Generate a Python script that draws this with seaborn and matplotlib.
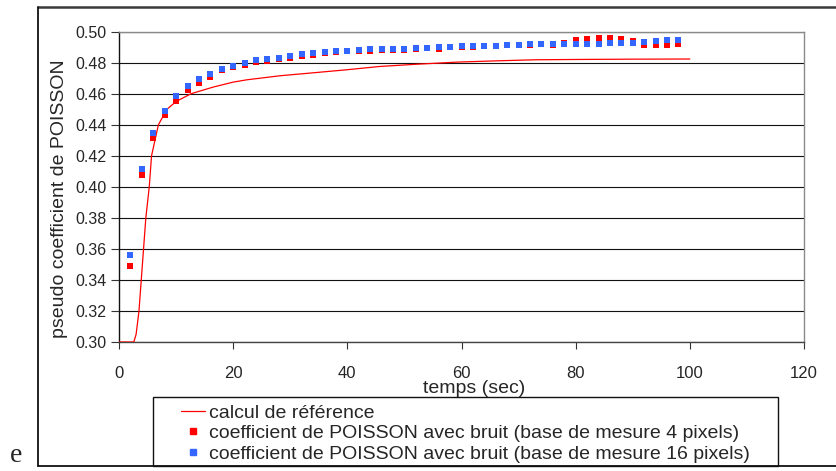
import matplotlib
matplotlib.use('Agg')
import matplotlib.pyplot as plt
import seaborn as sns
import pandas as pd
from matplotlib.lines import Line2D
from matplotlib.patches import Rectangle

# ── Data ─────────────────────────────────────────────────────────────────────
t_ref = [0, 2.6, 3.0, 3.5, 4.3, 4.7, 5.3, 5.7, 6.9, 8.4, 10.0, 12.6, 16.5, 20,
         22.4, 28.2, 34, 40, 45.7, 52, 59.2, 66, 72.9, 80, 90, 100]
v_ref = [0.300, 0.300, 0.305, 0.320, 0.360, 0.380, 0.400, 0.420, 0.440, 0.450,
         0.455, 0.460, 0.4643, 0.4675, 0.4690, 0.4716, 0.4735, 0.4755, 0.4776,
         0.4790, 0.4804, 0.4812, 0.4819, 0.4821, 0.4823, 0.4824]

t_pts = [2, 4, 6, 8, 10, 12, 14, 16, 18, 20, 22, 24, 26, 28, 30, 32, 34, 36,
         38, 40, 42, 44, 46, 48, 50, 52, 54, 56, 58, 60, 62, 64, 66, 68, 70,
         72, 74, 76, 78, 80, 82, 84, 86, 88, 90, 92, 94, 96, 98]
v_4px = [0.3490, 0.4077, 0.4318, 0.4463, 0.4555, 0.4624, 0.4671, 0.4708,
         0.4750, 0.4770, 0.4786, 0.4806, 0.4813, 0.4821, 0.4832, 0.4845,
         0.4850, 0.4865, 0.4869, 0.4873, 0.4877, 0.4877, 0.4879, 0.4884,
         0.4884, 0.4890, 0.4892, 0.4888, 0.4901, 0.4899, 0.4899, 0.4905,
         0.4905, 0.4912, 0.4912, 0.4916, 0.4918, 0.4916, 0.4929, 0.4948,
         0.4955, 0.4961, 0.4961, 0.4955, 0.4937, 0.4912, 0.4912, 0.4912,
         0.4918]
v_16px = [0.3559, 0.4114, 0.4350, 0.4492, 0.4585, 0.4650, 0.4695, 0.4729,
          0.4759, 0.4781, 0.4800, 0.4817, 0.4824, 0.4830, 0.4841, 0.4854,
          0.4860, 0.4869, 0.4873, 0.4877, 0.4879, 0.4886, 0.4888, 0.4890,
          0.4888, 0.4895, 0.4897, 0.4899, 0.4901, 0.4905, 0.4905, 0.4910,
          0.4910, 0.4912, 0.4912, 0.4918, 0.4918, 0.4918, 0.4921, 0.4921,
          0.4921, 0.4921, 0.4925, 0.4925, 0.4929, 0.4934, 0.4940, 0.4944,
          0.4948]

y_ticks = [0.30, 0.32, 0.34, 0.36, 0.38, 0.40, 0.42, 0.44, 0.46, 0.48, 0.50]
x_ticks = [0, 20, 40, 60, 80, 100, 120]

labels = ['calcul de référence',
          'coefficient de POISSON avec bruit (base de mesure 4 pixels)',
          'coefficient de POISSON avec bruit (base de mesure 16 pixels)']
RED = '#FF0000'
BLUE = '#3366FF'

# ── Style ────────────────────────────────────────────────────────────────────
sns.set_theme(style='white')
plt.rcParams['font.family'] = ['Liberation Sans', 'DejaVu Sans']

fig = plt.figure(figsize=(8.36, 4.71), dpi=100)
ax = fig.add_axes([119 / 836, 1 - 342 / 471, 685 / 836, 310.3 / 471])

ref_df = pd.DataFrame({'t': t_ref, 'v': v_ref})
pts_df = pd.DataFrame({'t': t_pts, 'v4': v_4px, 'v16': v_16px})

sns.lineplot(data=ref_df, x='t', y='v', ax=ax, color=RED, lw=0.9, zorder=3)
sns.scatterplot(data=pts_df, x='t', y='v4', ax=ax, color=RED, marker='s',
                s=15, linewidth=0, zorder=4)
sns.scatterplot(data=pts_df, x='t', y='v16', ax=ax, color=BLUE, marker='s',
                s=15, linewidth=0, zorder=5)

ax.set_xlim(0, 120)
ax.set_ylim(0.30, 0.50)
ax.set_xticks(x_ticks)
ax.set_yticks(y_ticks)
ax.set_xticklabels([str(v) for v in x_ticks], fontsize=12)
ax.set_yticklabels([f'{v:.2f}' for v in y_ticks], fontsize=11.5)
ax.yaxis.grid(True, color='#111111', lw=0.8)
ax.set_axisbelow(True)

ax.tick_params(axis='x', direction='out', length=5, width=0.8, color='#333333',
               pad=12, bottom=True)
ax.tick_params(axis='y', direction='out', length=6, width=0.8, color='#333333',
               pad=3, left=True)

for side in ['top', 'right']:
    ax.spines[side].set_color('#8a8a8a')
    ax.spines[side].set_linewidth(1.0)
ax.spines['left'].set_color('#111111')
ax.spines['bottom'].set_color('#444444')
for side in ['left', 'bottom']:
    ax.spines[side].set_linewidth(1.0)

ax.set_xlabel('temps (sec)', fontsize=14)
ax.set_ylabel('pseudo coefficient de POISSON', fontsize=14)
ax.xaxis.set_label_coords(0.518, -0.123)
ax.yaxis.set_label_coords(-0.074, 0.463)

# ── Outer frame ──────────────────────────────────────────────────────────────
fig.add_artist(Line2D([37.5 / 836, 1], [1 - 7 / 471] * 2, color='#3a3a3a',
                      lw=1.8, transform=fig.transFigure))
fig.add_artist(Line2D([37.5 / 836] * 2, [1 - 7 / 471, 1 - 466 / 471],
                      color='#111111', lw=1.3, transform=fig.transFigure))
fig.add_artist(Line2D([37.5 / 836, 1], [1 - 466 / 471] * 2, color='#111111',
                      lw=1.3, transform=fig.transFigure))

# ── Legend ───────────────────────────────────────────────────────────────────
fig.add_artist(Rectangle((153 / 836, 1 - 466 / 471), 625 / 836, 69 / 471,
                         transform=fig.transFigure, fill=False,
                         edgecolor='#111111', lw=1.0))
handles = [
    Line2D([], [], color=RED, lw=0.9),
    Line2D([], [], color=RED, marker='s', ms=4, lw=0),
    Line2D([], [], color=BLUE, marker='s', ms=4, lw=0),
]
fig.legend(handles, labels, loc='upper left',
           bbox_to_anchor=(181 / 836, 1 - 404 / 471), frameon=False,
           borderpad=0, borderaxespad=0, handlelength=1.25, handletextpad=0.2,
           labelspacing=0.15, fontsize=14, numpoints=1)

fig.text(10 / 836, 1 - 462 / 471, 'e', fontsize=20,
         family=['Liberation Serif', 'DejaVu Serif'], va='baseline')

fig.savefig('out.png', dpi=100)
